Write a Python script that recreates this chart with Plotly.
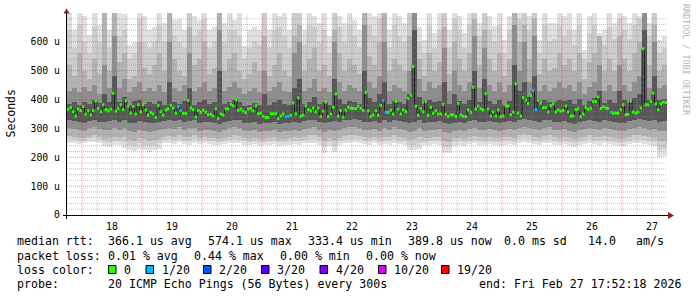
import plotly.graph_objects as go

# ---------------- data ----------------
days = ["18", "19", "20", "21", "22", "23", "24", "25", "26", "27"]
# hourly median RTT (us), starting Feb 17 18:00
median_us = [
    367, 372, 358, 343, 367, 362, 376, 350, 361, 347,
    362, 395, 369, 358, 382, 365, 361, 367, 422, 360,
    369, 382, 365, 397, 377, 353, 376, 350, 382, 358,
    382, 364, 346, 355, 350, 338, 379, 358, 347, 364,
    368, 380, 371, 353, 375, 362, 352, 352, 397, 371,
    365, 339, 362, 356, 363, 357, 348, 349, 343, 368,
    335,
    350, 347, 368, 368, 384, 379, 399, 363, 367, 360,
    355, 367, 369, 361, 378, 351, 353, 342, 338, 338,
    351, 351, 351, 334, 343, 350, 341, 342, 346, 388,
    351, 406, 342, 346, 378, 365, 361, 371, 358, 370,
    341, 360, 391, 341, 350, 373, 419, 343, 362, 339,
    363, 373, 370, 369, 369, 377, 370, 362, 425, 361,
    341,
    347, 361, 346, 380, 397, 356, 356, 363, 350, 393,
    367, 350, 364, 358, 404, 415, 514, 377, 346, 368,
    358, 395, 346, 373, 353, 361, 350, 350, 384, 349,
    341, 347, 347, 341, 387, 347, 342, 341, 364, 356,
    443, 368, 377, 368, 364, 420, 368, 343, 357, 343,
    364, 341, 343, 378, 378, 348, 357, 454, 353, 343,
    407, 398, 387, 413, 431, 366, 397, 388, 372, 372,
    357, 379, 385, 357, 364, 360, 362, 378, 357, 343,
    343, 365, 368, 341, 350, 372, 366, 370, 393, 393,
    409, 369, 375, 371, 369, 356, 353, 353, 353, 365,
    382, 348, 349, 397, 357, 353, 357, 371, 576, 382,
    382, 393, 422, 385, 365, 385, 391, 390,
]
loss_1of20_hours = [44, 45, 87, 88, 126, 127, 186, 187, 217]

# smoke (2-hour columns): ping distribution bands in us (outer -> inner)
smoke_hi = [
    700, 640, 700, 690, 625, 700, 660, 700, 640, 700, 700, 695, 590, 600, 700, 690, 640, 650, 700, 665,
    700, 675, 680, 640, 700, 690, 675, 700, 640, 650, 700, 665, 700, 675, 700, 584, 640, 650, 640, 700,
    640, 700, 690, 700, 640, 700, 700, 640, 700, 690, 665, 700, 620, 700, 690, 665, 700, 675, 640, 700,
    700, 690, 700, 700, 640, 700, 690, 665, 700, 700, 650, 605, 700, 630, 700, 700, 640, 700, 690, 630,
    700, 700, 665, 700, 690, 655, 700, 605, 690, 700, 700, 700, 690, 700, 605, 700, 665, 665, 700, 690,
    700, 640, 700, 572, 690, 700, 630, 640, 700, 665, 700, 690, 665, 700, 690, 700, 665, 700, 605, 620,
]
smoke_u1 = [
    640, 580, 660, 600, 560, 650, 600, 700, 580, 700, 620, 640, 540, 560, 680, 600, 580, 600, 660, 600,
    700, 620, 600, 580, 700, 620, 640, 680, 580, 600, 700, 600, 640, 640, 620, 540, 580, 600, 590, 700,
    580, 640, 650, 620, 580, 700, 700, 590, 660, 650, 600, 640, 560, 700, 650, 600, 660, 620, 580, 700,
    660, 620, 680, 700, 580, 660, 620, 600, 700, 700, 600, 560, 660, 580, 640, 700, 580, 680, 640, 580,
    660, 700, 620, 700, 640, 600, 660, 560, 640, 700, 680, 700, 640, 700, 560, 660, 600, 610, 660, 620,
    640, 590, 660, 540, 630, 660, 600, 590, 650, 610, 680, 640, 610, 660, 680, 700, 620, 700, 560, 580,
]
smoke_u2 = [
    520, 480, 560, 500, 470, 540, 490, 700, 500, 700, 530, 560, 470, 480, 600, 510, 490, 520, 560, 500,
    700, 540, 500, 480, 650, 520, 540, 600, 490, 510, 700, 500, 540, 560, 500, 470, 490, 530, 500, 620,
    480, 520, 560, 500, 480, 620, 660, 500, 540, 580, 500, 520, 480, 640, 560, 500, 540, 520, 490, 700,
    550, 520, 600, 700, 500, 540, 520, 500, 620, 700, 540, 480, 560, 500, 530, 650, 490, 600, 540, 500,
    560, 680, 520, 640, 540, 500, 560, 480, 540, 700, 600, 660, 540, 680, 490, 540, 500, 510, 560, 520,
    540, 500, 560, 470, 530, 560, 620, 500, 540, 500, 620, 540, 500, 560, 600, 700, 520, 660, 500, 520,
]
smoke_u3 = [
    430, 440, 425, 445, 430, 450, 420, 520, 440, 620, 440, 470, 425, 445, 460, 430, 440, 430, 450, 425,
    600, 440, 430, 450, 560, 430, 445, 460, 430, 440, 640, 430, 445, 460, 440, 420, 430, 440, 425, 500,
    430, 445, 460, 430, 425, 560, 600, 430, 440, 470, 430, 440, 425, 600, 460, 430, 450, 440, 430, 660,
    460, 440, 480, 600, 430, 450, 440, 430, 500, 700, 470, 430, 460, 440, 450, 580, 430, 500, 450, 430,
    460, 620, 440, 580, 450, 430, 460, 425, 450, 660, 500, 600, 460, 620, 430, 450, 430, 440, 460, 440,
    450, 430, 460, 420, 445, 460, 520, 430, 450, 430, 520, 450, 430, 460, 480, 700, 440, 600, 440, 450,
]
smoke_u4 = [
    385, 390, 380, 392, 385, 400, 388, 420, 390, 480, 392, 410, 382, 395, 398, 385, 390, 385, 395, 382,
    460, 390, 385, 395, 440, 380, 392, 400, 385, 392, 500, 385, 392, 400, 390, 378, 382, 388, 380, 420,
    380, 392, 400, 385, 382, 440, 470, 385, 390, 410, 385, 392, 380, 470, 402, 385, 395, 392, 385, 500,
    405, 390, 420, 460, 385, 395, 390, 385, 420, 640, 410, 385, 400, 390, 395, 460, 385, 420, 395, 385,
    400, 500, 392, 470, 395, 385, 400, 380, 395, 520, 430, 460, 410, 480, 390, 400, 390, 392, 400, 395,
    398, 385, 402, 380, 395, 405, 430, 388, 400, 388, 430, 400, 388, 405, 420, 640, 400, 480, 398, 402,
]
smoke_l4 = [
    328, 325, 322, 320, 326, 330, 324, 322, 326, 328, 324, 330, 320, 318, 326, 322, 320, 318, 322, 325,
    328, 326, 330, 322, 326, 328, 320, 324, 322, 318, 315, 322, 326, 330, 328, 320, 318, 322, 316, 318,
    320, 322, 314, 318, 320, 324, 320, 326, 328, 330, 324, 318, 322, 326, 322, 328, 330, 332, 328, 324,
    322, 326, 320, 328, 324, 330, 326, 322, 318, 322, 328, 320, 322, 324, 326, 318, 316, 320, 322, 318,
    326, 328, 324, 322, 326, 322, 320, 324, 326, 322, 330, 334, 330, 326, 322, 328, 330, 324, 322, 326,
    320, 316, 322, 326, 330, 326, 324, 328, 326, 322, 318, 320, 326, 330, 332, 330, 326, 328, 322, 326,
]
smoke_l3 = [
    302, 298, 296, 292, 300, 304, 298, 294, 296, 300, 296, 302, 290, 286, 296, 292, 288, 290, 294, 298,
    300, 298, 304, 296, 300, 302, 292, 296, 294, 290, 288, 294, 300, 304, 302, 292, 290, 294, 288, 290,
    292, 296, 286, 290, 292, 296, 292, 298, 302, 304, 296, 286, 294, 290, 294, 300, 304, 306, 300, 296,
    294, 298, 292, 300, 296, 304, 298, 294, 288, 290, 300, 292, 294, 296, 298, 286, 284, 292, 294, 290,
    298, 300, 296, 294, 298, 294, 292, 296, 298, 294, 302, 306, 302, 298, 294, 300, 304, 296, 294, 298,
    292, 288, 294, 298, 302, 298, 296, 300, 298, 294, 290, 292, 298, 302, 304, 300, 296, 298, 290, 292,
]
smoke_l2 = [
    274, 270, 268, 266, 272, 276, 270, 264, 266, 270, 268, 272, 260, 256, 266, 262, 258, 260, 264, 270,
    274, 272, 276, 270, 272, 276, 266, 270, 268, 266, 264, 268, 272, 276, 274, 266, 264, 268, 262, 264,
    266, 270, 262, 264, 266, 270, 266, 272, 276, 278, 270, 256, 266, 260, 268, 274, 276, 278, 274, 270,
    268, 272, 266, 272, 270, 276, 272, 268, 260, 262, 272, 266, 268, 270, 272, 256, 254, 266, 268, 264,
    272, 274, 270, 268, 272, 268, 266, 270, 272, 268, 276, 280, 276, 272, 268, 274, 278, 270, 268, 272,
    266, 262, 268, 272, 276, 272, 270, 274, 272, 268, 264, 266, 272, 276, 278, 274, 270, 268, 256, 258,
]
smoke_l1 = [
    262, 260, 258, 258, 262, 266, 260, 252, 250, 256, 256, 252, 244, 240, 248, 244, 240, 244, 248, 260,
    262, 260, 264, 258, 258, 262, 256, 260, 258, 256, 254, 258, 260, 262, 260, 256, 254, 258, 252, 254,
    256, 258, 252, 254, 256, 258, 256, 260, 262, 262, 258, 238, 254, 240, 256, 260, 262, 264, 262, 258,
    256, 260, 254, 258, 256, 262, 258, 256, 244, 244, 250, 254, 256, 258, 256, 236, 234, 254, 256, 252,
    258, 260, 256, 254, 258, 254, 252, 256, 258, 254, 262, 266, 262, 258, 254, 260, 264, 256, 254, 258,
    252, 248, 254, 258, 262, 258, 256, 260, 258, 254, 250, 252, 258, 262, 264, 260, 256, 254, 226, 230,
]
smoke_lo = [
    250, 248, 246, 250, 252, 254, 248, 238, 236, 242, 244, 232, 226, 222, 228, 224, 220, 226, 230, 248,
    250, 246, 252, 246, 244, 248, 246, 250, 246, 244, 242, 246, 248, 250, 248, 244, 242, 246, 240, 242,
    244, 246, 240, 242, 244, 246, 244, 248, 250, 248, 244, 216, 240, 220, 244, 248, 250, 252, 248, 246,
    244, 248, 242, 246, 244, 250, 246, 244, 226, 224, 228, 242, 244, 246, 242, 216, 214, 240, 244, 240,
    246, 248, 244, 242, 246, 242, 240, 244, 246, 242, 248, 252, 250, 246, 242, 248, 250, 244, 242, 246,
    240, 236, 242, 246, 248, 246, 244, 248, 246, 242, 238, 240, 246, 248, 250, 246, 244, 240, 200, 204,
]

y_tick_vals = [0, 100, 200, 300, 400, 500, 600]
y_tick_text = ["0", "100 u", "200 u", "300 u", "400 u", "500 u", "600 u"]

legend_rtt = ["median rtt:", "366.1 us avg", "574.1 us max", "333.4 us min",
              "389.8 us now", "0.0 ms sd", "14.0", "am/s"]
legend_loss = ["packet loss:", "0.01 % avg", "0.44 % max", "0.00 % min", "0.00 % now"]
loss_labels = ["0", "1/20", "2/20", "3/20", "4/20", "10/20", "19/20"]
loss_colors = ["#26ff00", "#00b8ff", "#0059ff", "#5e00ff", "#7e00ff", "#dd00ff", "#ff0000"]
probe_text = ["probe:", "20 ICMP Echo Pings (56 Bytes) every 300s", "end: Fri Feb 27 17:52:18 2026"]

# ---------------- layout geometry ----------------
W, H = 697, 297
L, R, T, B = 67, 667, 13, 215
PW, PH = R - L, B - T
MONO = "DejaVu Sans Mono"


def px(x):
    return (x - L) / PW


def py(y):
    return (B - y) / PH


n_hours = len(median_us)
n_cols = len(smoke_hi)
col_w = n_hours / n_cols
col_x = [col_w * (k + 0.5) for k in range(n_cols)]

fig = go.Figure()

bands = [
    (smoke_lo, smoke_hi, "#e0e0e0"),
    (smoke_l1, smoke_u1, "#cdcdcd"),
    (smoke_l2, smoke_u2, "#b3b3b3"),
    (smoke_l3, smoke_u3, "#8e8e8e"),
    (smoke_l4, smoke_u4, "#565656"),
]
for lo, hi, c in bands:
    fig.add_trace(go.Bar(
        x=col_x, y=[h - l for h, l in zip(hi, lo)], base=lo, width=col_w,
        marker=dict(color=c, line=dict(width=0)), hoverinfo="skip", showlegend=False,
    ))

# median dark step line
fig.add_trace(go.Scatter(
    x=list(range(n_hours)) + [n_hours], y=median_us + [median_us[-1]],
    mode="lines", line=dict(color="#202020", width=1, shape="hv"),
    hoverinfo="skip", showlegend=False,
))

# coloured median segments by loss
for color, pick in [(loss_colors[0], lambda i: i not in loss_1of20_hours),
                    (loss_colors[1], lambda i: i in loss_1of20_hours)]:
    xs, ys = [], []
    for i, m in enumerate(median_us):
        if pick(i):
            xs += [i, i + 1, None]
            ys += [m, m, None]
    fig.add_trace(go.Scatter(
        x=xs, y=ys, mode="lines", line=dict(color=color, width=3),
        connectgaps=False, hoverinfo="skip", showlegend=False,
    ))

shapes = []
grey = "rgba(140,140,140,0.5)"
red = "rgba(210,60,60,0.5)"
# horizontal grid (every 20 us, major every 100)
for v in range(20, 700, 20):
    shapes.append(dict(type="line", xref="x", yref="y", x0=0, x1=n_hours, y0=v, y1=v,
                       line=dict(color=red if v % 100 == 0 else grey, width=1, dash="1px,1px"),
                       layer="above"))
# vertical grid (every 6 h, major at midnight)
for hrs in range(6, n_hours, 6):
    shapes.append(dict(type="line", xref="x", yref="y", x0=hrs, x1=hrs, y0=0, y1=700,
                       line=dict(color=red if (hrs - 6) % 24 == 0 else grey, width=1, dash="1px,1px"),
                       layer="above"))
# axes
shapes.append(dict(type="line", xref="paper", yref="paper", x0=px(63), x1=px(669), y0=py(215.5), y1=py(215.5),
                   line=dict(color="black", width=1), layer="above"))
shapes.append(dict(type="line", xref="paper", yref="paper", x0=px(66.5), x1=px(66.5), y0=py(219), y1=py(11),
                   line=dict(color="black", width=1), layer="above"))
# arrows
shapes.append(dict(type="path", xref="paper", yref="paper",
                   path=f"M {px(63.5)} {py(13.5)} L {px(69.5)} {py(13.5)} L {px(66.5)} {py(8.5)} Z",
                   fillcolor="#8f1d1d", line=dict(width=0), layer="above"))
shapes.append(dict(type="path", xref="paper", yref="paper",
                   path=f"M {px(668)} {py(212)} L {px(668)} {py(219)} L {px(674)} {py(215.5)} Z",
                   fillcolor="#8f1d1d", line=dict(width=0), layer="above"))

annotations = []


def txt(x, y, s, size=11.6, color="black", anchor="left", angle=0):
    annotations.append(dict(x=px(x), y=py(y), xref="paper", yref="paper", text=s, showarrow=False,
                            xanchor=anchor, yanchor="middle", textangle=angle,
                            font=dict(family=MONO, size=size, color=color), borderpad=0))


rtt_x = [16, 107, 207, 307, 406.5, 503, 587, 635]
for x, s in zip(rtt_x, legend_rtt):
    txt(x, 241.5, s)
loss_x = [16, 107, 193, 279, 365]
for x, s in zip(loss_x, legend_loss):
    txt(x, 255.5, s)
txt(16, 269.5, "loss color:")
box_x = [108.5, 146, 203.5, 261.5, 320, 378.5, 441.5]
for x, lab, c in zip(box_x, loss_labels, loss_colors):
    shapes.append(dict(type="rect", xref="paper", yref="paper", x0=px(x), x1=px(x + 7.5),
                       y0=py(273.5), y1=py(265.5), fillcolor=c, line=dict(color="black", width=1)))
    txt(x + 14.5, 269.5, lab)
for x, s in zip([16, 107, 478], probe_text):
    txt(x, 283.5, s)

txt(10.5, 114, "Seconds", size=11.5, anchor="center", angle=-90)
txt(686, 60, "RRDTOOL / TOBI OETIKER", size=8.4, color="#b4b4b4", anchor="center", angle=90)

fig.update_layout(
    width=W, height=H,
    margin=dict(l=L, r=W - R, t=T, b=H - B, pad=0),
    paper_bgcolor="white", plot_bgcolor="white",
    barmode="overlay", bargap=0,
    showlegend=False,
    shapes=shapes, annotations=annotations,
    xaxis=dict(range=[0, n_hours], showgrid=False, zeroline=False, showline=False,
               tickmode="array", tickvals=[18 + 24 * j for j in range(len(days))], ticktext=days,
               ticks="", ticklabelstandoff=4,
               tickfont=dict(family=MONO, size=9.8, color="black"), fixedrange=True),
    yaxis=dict(range=[0, 700], showgrid=False, zeroline=False, showline=False,
               tickmode="array", tickvals=y_tick_vals, ticktext=y_tick_text,
               ticks="", ticklabelstandoff=6,
               tickfont=dict(family=MONO, size=9.8, color="black"), fixedrange=True),
)

fig.write_html("out.html")
